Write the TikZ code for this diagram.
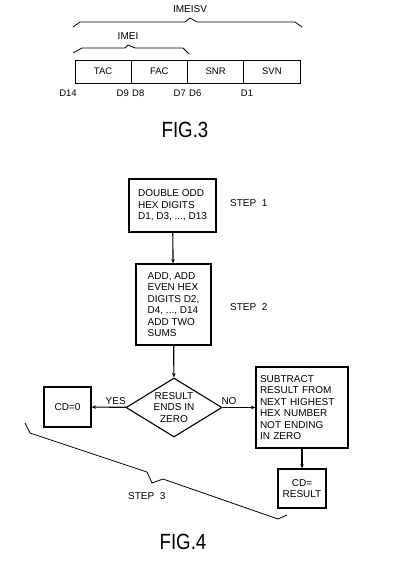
\documentclass[tikz,border=0pt]{standalone}
\usepackage{fontspec}
\setmainfont{Liberation Sans}
\usetikzlibrary{arrows.meta,positioning,shapes.geometric,calc}

\begin{document}
\begin{tikzpicture}[x=1pt, y=-1pt, >={Stealth[length=4.5pt, width=3.5pt]},
		fieldnode/.style={draw, line width=0.9pt, minimum height=23pt, minimum width=56.25pt, inner sep=0pt, outer sep=0pt, font=\fontsize{9.5}{10}\selectfont},
		digitnode/.style={inner sep=0pt, font=\fontsize{9.5}{10}\selectfont},
		stepbox/.style={draw, line width=1.1pt, align=left, inner sep=2pt, font=\fontsize{10}{11.5}\selectfont},
		decisionnode/.style={draw, diamond, line width=1.1pt, aspect=1.6, inner sep=0pt, minimum width=96pt, minimum height=59pt, align=center, font=\fontsize{10}{11.5}\selectfont},
		braceLine/.style={line width=0.8pt},
		flowLine/.style={line width=1.1pt, ->},
		labelnode/.style={inner sep=0pt, font=\fontsize{10}{10}\selectfont},
		fignode/.style={inner sep=0pt, font=\fontsize{22}{24}\selectfont}
		]
	\useasboundingbox (0,0) rectangle (400,573);
	
	% FIG.3
	\node [fieldnode] (tac) at (103.1,71.5) {TAC};
	\node [fieldnode, right=0pt of tac] (fac) {FAC};
	\node [fieldnode, right=0pt of fac] (snr) {SNR};
	\node [fieldnode, right=0pt of snr] (svn) {SVN};
	
	\node [digitnode] (d14) at (68,93) {D14};
	\node [digitnode, anchor=east] (d9) at (129,93) {D9};
	\node [digitnode, anchor=west] (d8) at (132,93) {D8};
	\node [digitnode, anchor=east] (d7) at (186,93) {D7};
	\node [digitnode, anchor=west] (d6) at (189,93) {D6};
	\node [digitnode] (d1) at (247,93) {D1};
	
	\draw [braceLine] (73,27) -- (80,22) -- (185,22) -- (190,18) -- (197,22) -- (295,22) -- (302,27);
	\node [labelnode] (imeisv) at (190,9) {IMEISV};
	\draw [braceLine] (73,53) -- (82,48) -- (125,48) -- (128,45) -- (135,48) -- (183,48) -- (189,54);
	\node [labelnode] (imei) at (128,36) {IMEI};
	
	\node [fignode] (fig3) at (185,130) {\scalebox{0.85}[1]{FIG.3}};
	
	% FIG.4
	\node [stepbox, minimum width=87pt, minimum height=53pt] (double) at (172.5,205.5) {DOUBLE ODD\\HEX DIGITS\\D1, D3, ..., D13};
	\node [labelnode, anchor=west] (step1) at (230,203) {STEP\ \ 1};
	
	\node [stepbox, minimum width=75pt, minimum height=81pt] (add) at (173.5,304.5) {ADD, ADD\\EVEN HEX\\DIGITS D2,\\D4, ..., D14\\ADD TWO\\SUMS};
	\node [labelnode, anchor=west] (step2) at (230,307) {STEP\ \ 2};
	
	\node [decisionnode] (zero) at (174,407.5) {RESULT\\ENDS IN\\ZERO};
	\node [stepbox, minimum width=47pt, minimum height=40pt] (cdzero) at (67.5,407) {CD=0};
	\node [stepbox, minimum width=92pt, minimum height=81pt, text width=84pt] (subtract) at (302,407.5) {SUBTRACT\\RESULT FROM\\NEXT HIGHEST\\HEX NUMBER\\NOT ENDING\\IN ZERO};
	\node [stepbox, align=center, minimum width=48pt, minimum height=39pt] (cdresult) at (302,488.5) {CD=\\RESULT};
	
	\draw [flowLine] (double) -- (add);
	\draw [flowLine] (add) -- (zero);
	\draw [flowLine] (zero) -- node[labelnode, above=2pt, xshift=7pt]{YES} (cdzero);
	\draw [flowLine] (zero) -- node[labelnode, above=2pt, xshift=-10pt]{NO} (subtract);
	\draw [flowLine] (subtract) -- (cdresult);
	
	\draw [braceLine] (25,423) -- (30,433) -- (147,472) -- (152,483) -- (163,479) -- (278,519) -- (287,515);
	\node [labelnode, anchor=west] (step3) at (128,496) {STEP\ \ 3};
	
	\node [fignode] (fig4) at (183,542) {\scalebox{0.85}[1]{FIG.4}};
\end{tikzpicture}
\end{document}
